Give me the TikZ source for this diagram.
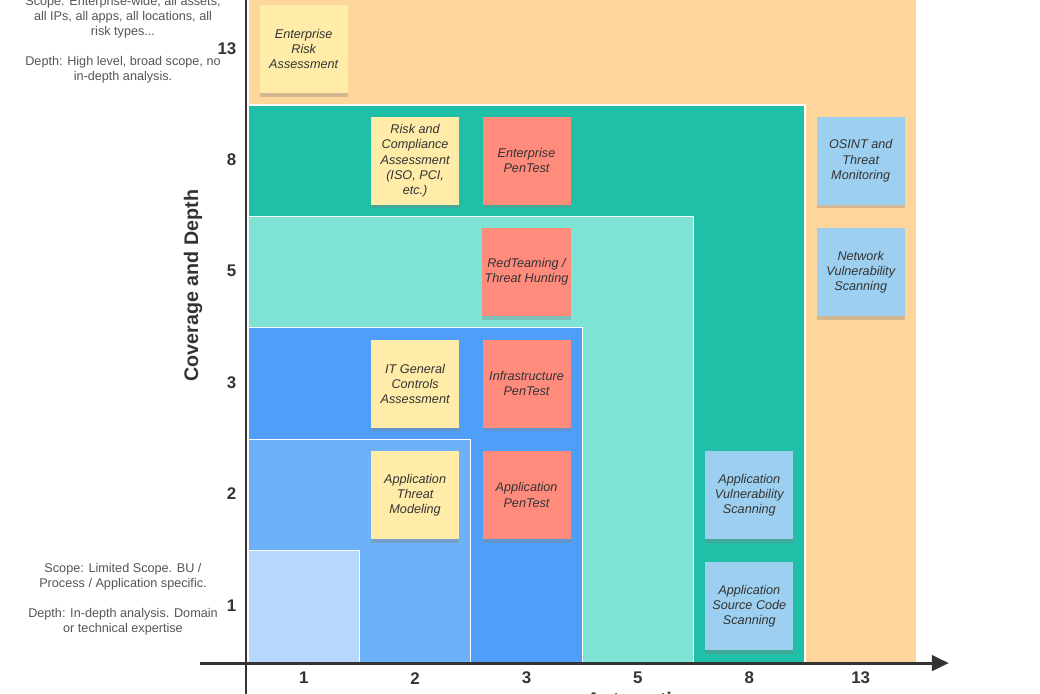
\documentclass[tikz,border=0pt]{standalone}
\usepackage{fontspec}
\setmainfont{Liberation Sans}
\usetikzlibrary{arrows.meta,shadows}

\definecolor{ink}{HTML}{333333}
\definecolor{remarkgray}{HTML}{555555}
\definecolor{zoneA}{HTML}{B6D8FC}
\definecolor{zoneB}{HTML}{6DB1FA}
\definecolor{zoneC}{HTML}{4F9FFA}
\definecolor{zoneD}{HTML}{7DE3D5}
\definecolor{zoneE}{HTML}{1FC0A7}
\definecolor{zoneF}{HTML}{FED69B}
\definecolor{noteyellow}{HTML}{FFECA8}
\definecolor{notered}{HTML}{FF8B7D}
\definecolor{noteblue}{HTML}{9DD0F0}

\tikzset{
  zone/.style={draw=white, line width=0.8pt},
  sticky/.style={minimum width=2.2cm, minimum height=2.2cm, inner sep=2pt,
    align=center, text=ink, font=\fontsize{9}{10.7}\selectfont\itshape,
    drop shadow={shadow xshift=0pt, shadow yshift=-2.5pt, opacity=0.35}},
  yellownote/.style={sticky, fill=noteyellow},
  rednote/.style={sticky, fill=notered},
  bluenote/.style={sticky, fill=noteblue},
  ticklabel/.style={text=ink, font=\bfseries\fontsize{12}{14}\selectfont},
  axistitle/.style={text=ink, font=\bfseries\fontsize{14}{17}\selectfont},
  remark/.style={align=center, text=remarkgray, font=\fontsize{9}{10.7}\selectfont}
}

\begin{document}
\begin{tikzpicture}[x=2.785cm, y=2.785cm]
        \useasboundingbox (-2.226, -0.278) rectangle (7.109, 5.943);

        % Nested zones:
        \filldraw[zone, fill=zoneF] (0, 0) rectangle (6, 6.2);
        \filldraw[zone, fill=zoneE] (0, 0) rectangle (5, 5);
        \filldraw[zone, fill=zoneD] (0, 0) rectangle (4, 4);
        \filldraw[zone, fill=zoneC] (0, 0) rectangle (3, 3);
        \filldraw[zone, fill=zoneB] (0, 0) rectangle (2, 2);
        \filldraw[zone, fill=zoneA] (0, 0) rectangle (1, 1);

        % Axes:
        \draw[ink, line width=2.1pt] (-0.018, -0.3) -- (-0.018, 6.2);
        \draw[ink, line width=2.1pt, -{Triangle[length=12pt, width=11pt]}] (-0.43, -0.009) -- (6.29, -0.009);

        % Tick labels:
        \foreach \val [count=\i from 0] in {1, 2, 3, 5, 8, 13} {
            \node[ticklabel] (xtick\i) at (\i+0.5, -0.144) {\val};
            \node[ticklabel, anchor=east] (ytick\i) at (-0.06, \i+0.51) {\val};
        }
        \node[axistitle, rotate=90] (ytitle) at (-0.494, 3.38) {Coverage and Depth};
        \node[axistitle, anchor=base] (xtitle) at (3.53, -0.395) {Automation};

        % Remarks:
        \node[remark] (topremark) at (-1.122, 5.584) {Scope: Enterprise-wide, all assets,\\all IPs, all apps, all locations, all\\risk types...\\[10.7pt]Depth: High level, broad scope, no\\in-depth analysis.};
        \node[remark] (bottomremark) at (-1.122, 0.566) {Scope: Limited Scope. BU /\\Process / Application specific.\\[10.7pt]Depth: In-depth analysis. Domain\\or technical expertise};

        % Sticky notes:
        \node[yellownote] (erisk) at (0.5, 5.5) {Enterprise\\Risk\\Assessment};
        \node[yellownote] (rcomp) at (1.5, 4.5) {Risk and\\Compliance\\Assessment\\(ISO, PCI,\\etc.)};
        \node[rednote] (epentest) at (2.5, 4.5) {Enterprise\\PenTest};
        \node[rednote] (redteam) at (2.5, 3.5) {RedTeaming /\\Threat Hunting};
        \node[yellownote] (itgc) at (1.5, 2.5) {IT General\\Controls\\Assessment};
        \node[rednote] (ipentest) at (2.5, 2.5) {Infrastructure\\PenTest};
        \node[yellownote] (threatmod) at (1.5, 1.5) {Application\\Threat\\Modeling};
        \node[rednote] (apentest) at (2.5, 1.5) {Application\\PenTest};
        \node[bluenote] (osint) at (5.5, 4.5) {OSINT and\\Threat\\Monitoring};
        \node[bluenote] (netvuln) at (5.5, 3.5) {Network\\Vulnerability\\Scanning};
        \node[bluenote] (appvuln) at (4.5, 1.5) {Application\\Vulnerability\\Scanning};
        \node[bluenote] (srcscan) at (4.5, 0.5) {Application\\Source Code\\Scanning};
    \end{tikzpicture}
\end{document}
